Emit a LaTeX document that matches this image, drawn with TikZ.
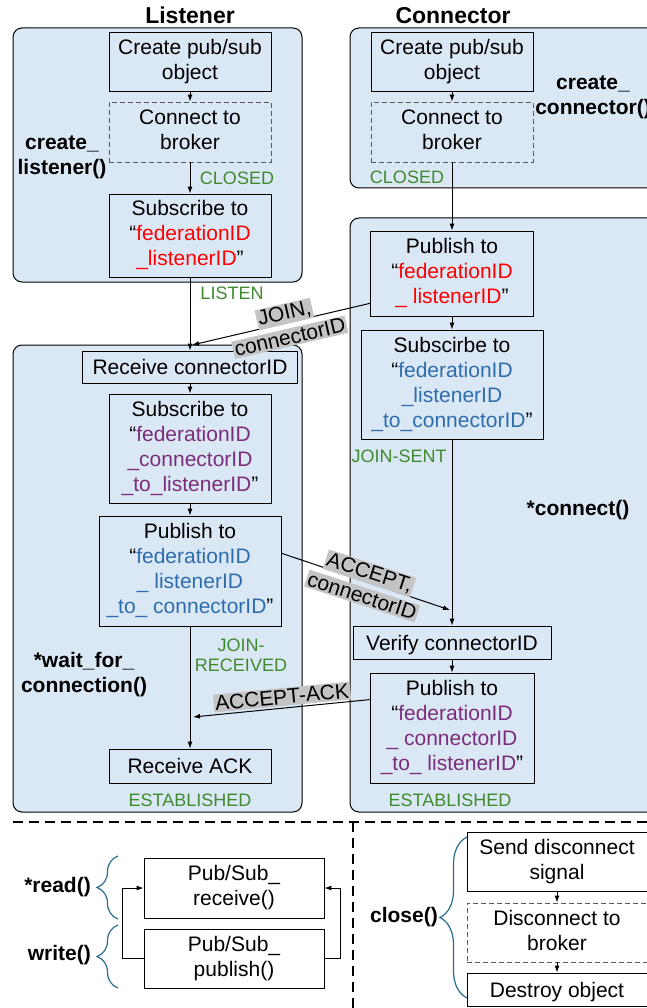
\documentclass[tikz,border=0pt]{standalone}
\usepackage{fontspec}
\setmainfont{Liberation Sans}
\usetikzlibrary{arrows.meta,decorations.pathreplacing}

\definecolor{paneblue}{HTML}{DAE8F5}
\definecolor{fedred}{HTML}{FF0000}
\definecolor{fedpurple}{HTML}{7B2C7A}
\definecolor{fedblue}{HTML}{2E6DAD}
\definecolor{stategreen}{HTML}{3F8A2E}
\definecolor{msggray}{HTML}{C4C4C4}
\definecolor{bracecol}{HTML}{2A6B8F}

\newcommand{\msgbg}[1]{{\setlength{\fboxsep}{1.5pt}\colorbox{msggray}{#1}}}
\newcommand{\fr}[1]{\textcolor{fedred}{#1}}
\newcommand{\fp}[1]{\textcolor{fedpurple}{#1}}
\newcommand{\fb}[1]{\textcolor{fedblue}{#1}}
\newcommand{\linestrut}{\rule[-4.5pt]{0pt}{24pt}}

\begin{document}
\begin{tikzpicture}
  [x=1pt,y=-1pt,>={Latex[length=7pt,width=5pt]},
   lane/.style={draw,line width=1pt,fill=paneblue,rounded corners=9pt},
   box/.style={draw,line width=0.8pt,align=center,inner sep=0pt,font=\fontsize{21}{25}\selectfont,
     execute at begin node=\linestrut,execute at end node=\linestrut},
   dbox/.style={box,draw=black!65,dash pattern=on 5pt off 3pt},
   state/.style={text=stategreen,align=center,inner sep=0pt,font=\fontsize{18}{20}\selectfont},
   call/.style={align=center,inner sep=0pt,font=\bfseries\fontsize{21}{25}\selectfont},
   title/.style={inner sep=0pt,font=\bfseries\fontsize{23}{27}\selectfont},
   msg/.style={align=center,inner sep=0pt,font=\fontsize{21}{25}\selectfont},
   flow/.style={->,line width=1pt},
   sepline/.style={line width=1.2pt,dash pattern=on 10pt off 6pt},
   cbrace/.style={draw=bracecol,line width=1.2pt,decorate,decoration={brace,amplitude=#1}}]
  \useasboundingbox (0,0) rectangle (647,1008);
  \clip (0,0) rectangle (647,1008);

  \node[title] (ltitle) at (190,15) {Listener};
  \node[title] (ctitle) at (453,16) {Connector};

  % lanes
  \draw[lane] (13,28) rectangle (302,282);
  \draw[lane] (350,28) rectangle (670,188);
  \draw[lane] (350,218) rectangle (670,812);
  \draw[lane] (13,345) rectangle (302,812);

  % listener side
  \node[box,minimum width=162pt,minimum height=59pt] (lcreate) at (190,61.5) {Create pub/sub\\object};
  \node[dbox,minimum width=162pt,minimum height=60pt] (lconn) at (190,132) {Connect to\\broker};
  \node[box,minimum width=162pt,minimum height=83pt] (lsub) at (190,235.5) {Subscribe to\\“\fr{federationID}\\\fr{\_listenerID}”};
  \node[box,minimum width=215pt,minimum height=32pt] (lrecv) at (190,367) {Receive connectorID};
  \node[box,minimum width=162pt,minimum height=109pt] (lsub2) at (190,448.5) {Subscribe to\\“\fp{federationID}\\\fp{\_connectorID}\\\fp{\_to\_listenerID}”};
  \node[box,minimum width=182pt,minimum height=110pt] (lpub) at (190,571) {Publish to\\“\fb{federationID}\\\fb{\_ listenerID}\\\fb{\_to\_ connectorID}”};
  \node[box,minimum width=162pt,minimum height=34pt] (lack) at (190,766) {Receive ACK};

  % connector side
  \node[box,minimum width=162pt,minimum height=59pt] (ccreate) at (452,61.5) {Create pub/sub\\object};
  \node[dbox,minimum width=162pt,minimum height=60pt] (cconn) at (452,132) {Connect to\\broker};
  \node[box,minimum width=163pt,minimum height=85pt] (cpub) at (452,273.5) {Publish to\\“\fr{federationID}\\\fr{\_ listenerID}”};
  \node[box,minimum width=182pt,minimum height=109pt] (csub) at (452,384.5) {Subscirbe to\\“\fb{federationID}\\\fb{\_listenerID}\\\fb{\_to\_connectorID}”};
  \node[box,minimum width=198pt,minimum height=33pt] (cverify) at (452,642.5) {Verify connectorID};
  \node[box,minimum width=164pt,minimum height=110pt] (cpub2) at (452,728) {Publish to\\“\fp{federationID}\\\fp{\_ connectorID}\\\fp{\_to\_ listenerID}”};

  % close()
  \node[box,minimum width=180pt,minimum height=59pt] (csend) at (557,861.5) {Send disconnect\\signal};
  \node[dbox,minimum width=180pt,minimum height=59pt] (cdisc) at (557,932.5) {Disconnect to\\broker};
  \node[box,minimum width=180pt,minimum height=33pt] (cdestroy) at (557,989.5) {Destroy object};

  \foreach \from/\to in {lcreate/lconn,lconn/lsub,lsub/lrecv,lrecv/lsub2,lsub2/lpub,lpub/lack,
      ccreate/cconn,cconn/cpub,cpub/csub,csub/cverify,cverify/cpub2,csend/cdisc,cdisc/cdestroy}
    \draw[flow] (\from) -- (\to);

  % states
  \node[state] (lclosed) at (237,178) {CLOSED};
  \node[state] (llisten) at (232,293) {LISTEN};
  \node[state] (cclosed) at (407,177) {CLOSED};
  \node[state] (cjoinsent) at (399,456) {JOIN-SENT};
  \node[state] (ljoinrecv) at (241,655) {JOIN-\\RECEIVED};
  \node[state] (lestab) at (190,800) {ESTABLISHED};
  \node[state] (cestab) at (450,800) {ESTABLISHED};

  % calls
  \node[call] (lcreatefn) at (62,157) {create\_\\listener()};
  \node[call] (ccreatefn) at (593,97) {create\_\\connector()};
  \node[call] (connectfn) at (578,510) {*connect()};
  \node[call] (waitfn) at (84,675) {*wait\_for\_\\connection()};

  % messages
  \coordinate (joinend) at (192,345);
  \coordinate (acceptend) at (450,610);
  \coordinate (ackend) at (193,717);
  \draw[flow] (cpub.200) -- (joinend);
  \draw[flow] (lpub.11) -- (acceptend);
  \draw[flow] (cpub2.161) -- (ackend);
  \node[msg,rotate=13] (joinmsg) at (287,325) {\msgbg{JOIN,}\\\msgbg{connectorID}};
  \node[msg,rotate=-18] (acceptmsg) at (366,584) {\msgbg{ACCEPT,}\\\msgbg{connectorID}};
  \node[msg,rotate=5.5] (ackmsg) at (282,697) {\msgbg{ACCEPT-ACK}};

  % bottom part
  \draw[sepline] (13,822) -- (660,822);
  \draw[sepline] (353,822) -- (353,1012);

  \node[box,minimum width=180pt,minimum height=60pt] (psrecv) at (234,888) {Pub/Sub\_\\receive()};
  \node[box,minimum width=180pt,minimum height=59pt] (pspub) at (234,958.5) {Pub/Sub\_\\publish()};
  \draw[flow] (pspub.west) -- ++(-21,0) |- (psrecv.west);
  \draw[flow] (pspub.east) -- ++(16,0) |- (psrecv.east);

  \draw[cbrace=21] (118,919) -- (118,856);
  \draw[cbrace=21] (118,988) -- (118,925);
  \draw[cbrace=27] (467,998) -- (467,837);
  \node[call,anchor=east] (readfn) at (91,887) {*read()};
  \node[call,anchor=east] (writefn) at (91,955) {write()};
  \node[call,anchor=east] (closefn) at (438,917) {close()};
\end{tikzpicture}
\end{document}
